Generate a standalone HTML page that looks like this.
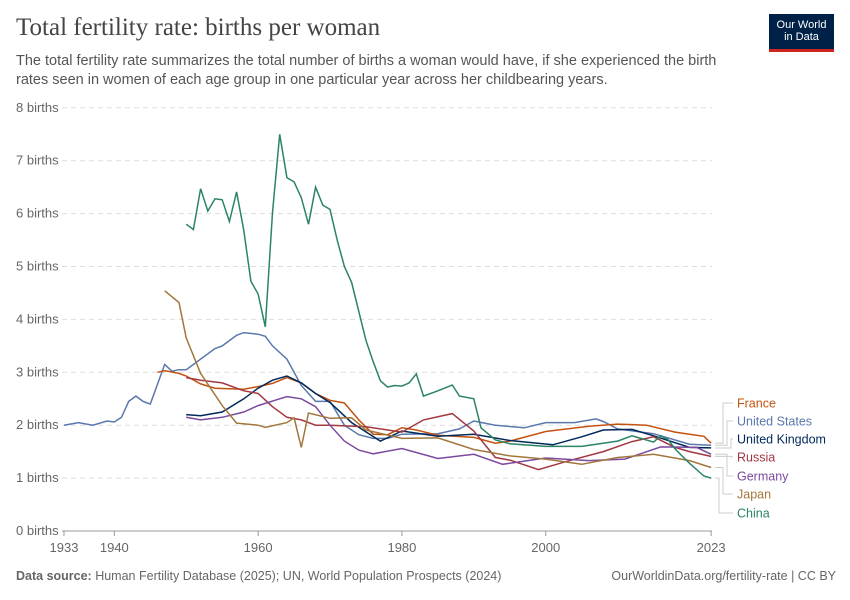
<!DOCTYPE html>
<html><head><meta charset="utf-8"><style>
body{margin:0;background:#fff;font-family:"Liberation Sans",sans-serif;}
.t{position:absolute;left:16px;top:14px;font-family:"Liberation Serif",serif;font-size:25px;color:#444;}
.s{position:absolute;left:16px;top:52px;font-size:14.5px;color:#555;line-height:19px;width:728px;}
.logo{position:absolute;left:769px;top:14px;width:65px;height:38px;background:#002147;color:#fff;font-size:11px;text-align:center;line-height:12px;padding-top:5px;box-sizing:border-box;border-bottom:3px solid #ce261e;}
.f{position:absolute;top:569px;font-size:12.5px;color:#666;}
</style></head><body>
<div class="t">Total fertility rate: births per woman</div>
<div class="s">The total fertility rate summarizes the total number of births a woman would have, if she experienced the birth rates seen in women of each age group in one particular year across her childbearing years.</div>
<div class="logo">Our World<br>in Data</div>
<svg id="c" width="850" height="600" style="position:absolute;left:0;top:0" font-family="Liberation Sans, sans-serif"></svg>
<div class="f" style="left:16px"><b>Data source:</b> Human Fertility Database (2025); UN, World Population Prospects (2024)</div>
<div class="f" style="right:14px">OurWorldinData.org/fertility-rate | CC BY</div>
<script>
const X=y=>64+(y-1933)*7.19, Y=v=>531-v*52.9;
let s='';
for(let i=0;i<=8;i++){let y=Y(i);
 s+=`<line x1="62" x2="712" y1="${y}" y2="${y}" stroke="${i?'#ddd':'#999'}" stroke-dasharray="${i?'5,4':''}"/>`;
 s+=`<text x="16" y="${y+4}" font-size="13" fill="#666">${i} births</text>`;}
[[1933,'1933'],[1940,'1940'],[1960,'1960'],[1980,'1980'],[2000,'2000'],[2023,'2023']].forEach(([y,l])=>{
 s+=`<text x="${X(y)}" y="552" font-size="13" fill="#666" text-anchor="middle">${l}</text>`;
 s+=`<line x1="${X(y)}" x2="${X(y)}" y1="531" y2="536" stroke="#999"/>`;});
const D={
us:['#5a78ad',[1933,2,1935,2.05,1937,2,1939,2.08,1940,2.06,1941,2.15,1942,2.45,1943,2.55,1944,2.45,1945,2.4,1947,3.15,1948,3.02,1949,3.05,1950,3.05,1952,3.25,1954,3.45,1955,3.5,1957,3.7,1958,3.75,1960,3.72,1961,3.68,1962,3.5,1964,3.25,1966,2.75,1968,2.45,1970,2.45,1972,2.0,1974,1.82,1976,1.75,1978,1.75,1980,1.83,1985,1.84,1988,1.93,1990,2.08,1993,2.0,1997,1.95,2000,2.05,2004,2.05,2007,2.12,2008,2.07,2010,1.93,2015,1.84,2020,1.64,2023,1.62]],
fr:['#c4520f',[1946,3.0,1947,3.03,1949,2.98,1950,2.93,1952,2.78,1954,2.7,1958,2.68,1960,2.73,1962,2.79,1964,2.9,1966,2.8,1968,2.6,1970,2.47,1972,2.42,1974,2.1,1976,1.83,1978,1.82,1980,1.95,1982,1.91,1985,1.81,1990,1.77,1993,1.66,1995,1.7,2000,1.88,2006,1.98,2010,2.02,2014,2.0,2018,1.87,2020,1.83,2022,1.79,2023,1.66]],
uk:['#00295b',[1950,2.2,1952,2.18,1955,2.25,1958,2.5,1960,2.7,1962,2.85,1964,2.93,1966,2.8,1968,2.6,1970,2.43,1973,2.05,1977,1.7,1980,1.89,1985,1.79,1990,1.83,1995,1.71,2001,1.63,2005,1.78,2008,1.91,2012,1.92,2015,1.8,2020,1.58,2023,1.57]],
ru:['#a2373f',[1950,2.9,1952,2.85,1955,2.8,1958,2.65,1960,2.6,1962,2.35,1964,2.15,1966,2.1,1968,2.0,1970,2.0,1975,1.97,1980,1.87,1983,2.1,1987,2.22,1990,1.89,1993,1.39,1995,1.34,1999,1.16,2003,1.32,2008,1.5,2012,1.69,2015,1.78,2018,1.58,2020,1.5,2023,1.41]],
de:['#7b4a9e',[1950,2.15,1952,2.1,1955,2.15,1958,2.25,1960,2.37,1963,2.5,1964,2.54,1966,2.5,1968,2.35,1970,2.0,1972,1.7,1974,1.53,1976,1.46,1980,1.56,1985,1.37,1990,1.45,1994,1.26,2000,1.38,2006,1.33,2011,1.36,2016,1.59,2021,1.58,2023,1.45]],
jp:['#a2763c',[1947,4.54,1949,4.32,1950,3.65,1952,2.98,1955,2.37,1957,2.04,1960,2.0,1961,1.96,1964,2.05,1965,2.14,1966,1.58,1967,2.23,1970,2.13,1973,2.14,1975,1.91,1980,1.75,1985,1.76,1990,1.54,1995,1.42,2000,1.36,2005,1.26,2010,1.39,2015,1.45,2020,1.33,2023,1.2]],
cn:['#2c8465',[1950,5.8,1951,5.7,1952,6.47,1953,6.05,1954,6.28,1955,6.26,1956,5.85,1957,6.41,1958,5.68,1959,4.72,1960,4.48,1961,3.86,1962,6.02,1963,7.5,1964,6.68,1965,6.6,1966,6.3,1967,5.8,1968,6.5,1969,6.16,1970,6.08,1971,5.5,1972,5.0,1973,4.7,1975,3.6,1976,3.2,1977,2.84,1978,2.72,1979,2.75,1980,2.74,1981,2.8,1982,2.97,1983,2.55,1985,2.65,1987,2.76,1988,2.55,1990,2.5,1991,1.95,1993,1.72,1995,1.65,2000,1.6,2005,1.6,2010,1.7,2012,1.8,2015,1.68,2016,1.8,2017,1.73,2018,1.55,2020,1.28,2022,1.04,2023,1.0]]};
for(const k in D){const [c,a]=D[k];let p=[];for(let i=0;i<a.length;i+=2)p.push(X(a[i]).toFixed(1)+','+Y(a[i+1]).toFixed(1));
 s+=`<polyline points="${p.join(' ')}" fill="none" stroke="${c}" stroke-width="1.5"/>`;}
const L=[['France','#c4520f',403,1.66],['United States','#5a78ad',421,1.62],['United Kingdom','#00295b',439,1.57],['Russia','#a2373f',457,1.41],['Germany','#7b4a9e',476,1.45],['Japan','#a2763c',494,1.2],['China','#2c8465',513,1.0]];
const ex=[723,727,731,731,727,723,719];
L.forEach(([n,c,y,v],i)=>{
 s+=`<polyline points="715,${Y(v)} ${ex[i]},${Y(v)} ${ex[i]},${y} 733,${y}" fill="none" stroke="#ccc"/>`;
 s+=`<text x="737" y="${y+4.5}" font-size="12.5" fill="${c}">${n}</text>`;});
document.getElementById('c').innerHTML=s;
</script>
</body></html>
